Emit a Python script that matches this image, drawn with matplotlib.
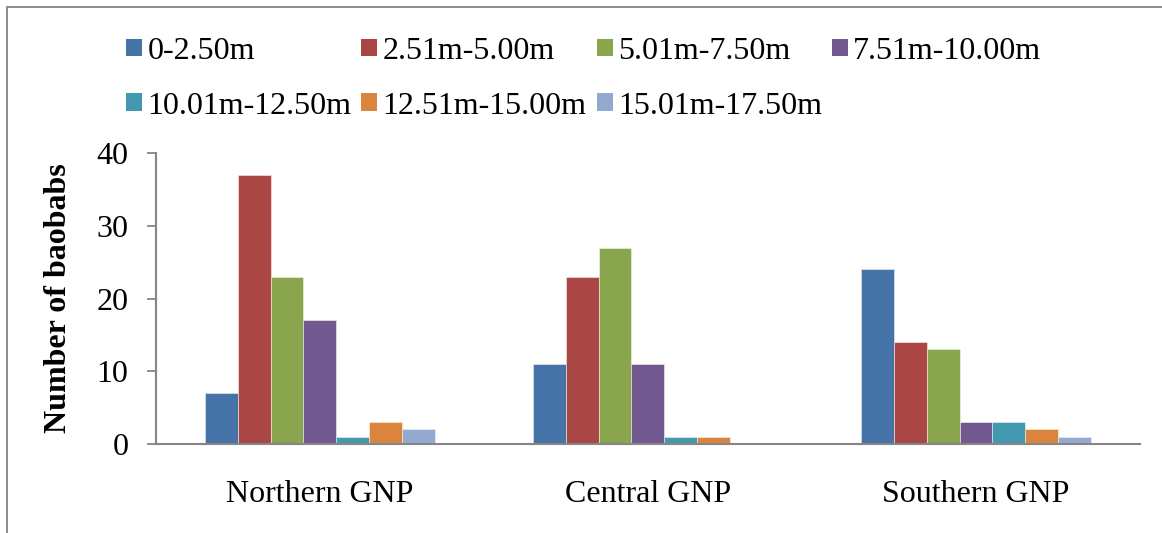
import numpy as np
import matplotlib
matplotlib.use("Agg")
import matplotlib.pyplot as plt
from matplotlib.patches import Rectangle

# baobab counts per height class in each part of the park
regions = ["Northern GNP", "Central GNP", "Southern GNP"]
height_classes = ["0-2.50m", "2.51m-5.00m", "5.01m-7.50m", "7.51m-10.00m",
                  "10.01m-12.50m", "12.51m-15.00m", "15.01m-17.50m"]
h_0_250 = [7, 11, 24]
h_251_500 = [37, 23, 14]
h_501_750 = [23, 27, 13]
h_751_1000 = [17, 11, 3]
h_1001_1250 = [1, 1, 3]
h_1251_1500 = [3, 1, 2]
h_1501_1750 = [2, 0, 1]

counts = [h_0_250, h_251_500, h_501_750, h_751_1000,
          h_1001_1250, h_1251_1500, h_1501_1750]
colors = ["#4572A7", "#AA4643", "#89A54E", "#71588F",
          "#4198AF", "#DB843D", "#93A9CF"]

plt.rcParams["font.family"] = ["Liberation Serif", "DejaVu Serif"]
fs = 23
W, H = 1162, 533

fig = plt.figure(figsize=(W / 100, H / 100), dpi=100)
ax = fig.add_axes([155.7 / W, 89 / H, (1140 - 155.7) / W, (444 - 153) / H])

x = np.arange(len(regions))
bw = 0.1
for i, (vals, col) in enumerate(zip(counts, colors)):
    ax.bar(x + (i - 3) * bw, vals, width=bw, color=col,
           edgecolor=(1, 1, 1, 0.55), linewidth=0.6, label=height_classes[i])

ax.set_xlim(-0.5, 2.5)
ax.set_ylim(0, 40)
ax.set_yticks([0, 10, 20, 30, 40])
ax.set_xticks(x)
ax.set_xticklabels(regions)
ax.tick_params(axis="x", length=0, pad=26, labelsize=fs)
ax.tick_params(axis="y", length=6.5, width=1.3, color="#868686",
               pad=13, labelsize=fs)
for side in ["top", "right"]:
    ax.spines[side].set_visible(False)
for side in ["left", "bottom"]:
    ax.spines[side].set_color("#868686")
    ax.spines[side].set_linewidth(1.5)

fig.text(59 / W, 1 - 298 / H, "Number of baobabs", rotation=90,
         ha="center", va="center", fontsize=23, fontweight="bold")

# legend filled row by row: matplotlib fills columns, so interleave the rows
order = [0, 4, 1, 5, 2, 6, 3]
handles = [Rectangle((0, 0), 1, 1, facecolor=colors[k], edgecolor="none") for k in order]
labels = [height_classes[k] for k in order]
fig.legend(handles, labels, ncol=4, loc="upper left",
           bbox_to_anchor=(126 / W, 1 - 37 / H), frameon=False,
           fontsize=fs, handlelength=0.5, handleheight=0.47,
           handletextpad=0.17, columnspacing=0.31, labelspacing=0.8,
           borderpad=0, borderaxespad=0)

# outer chart frame, cut off at right and bottom
fig.patches.append(Rectangle((6.5 / W, -0.1), 1.2, 1 - 7.5 / H + 0.1,
                             transform=fig.transFigure, fill=False,
                             edgecolor="#8c8c8c", linewidth=1.4))

fig.savefig("out.png", dpi=100, facecolor="white")
